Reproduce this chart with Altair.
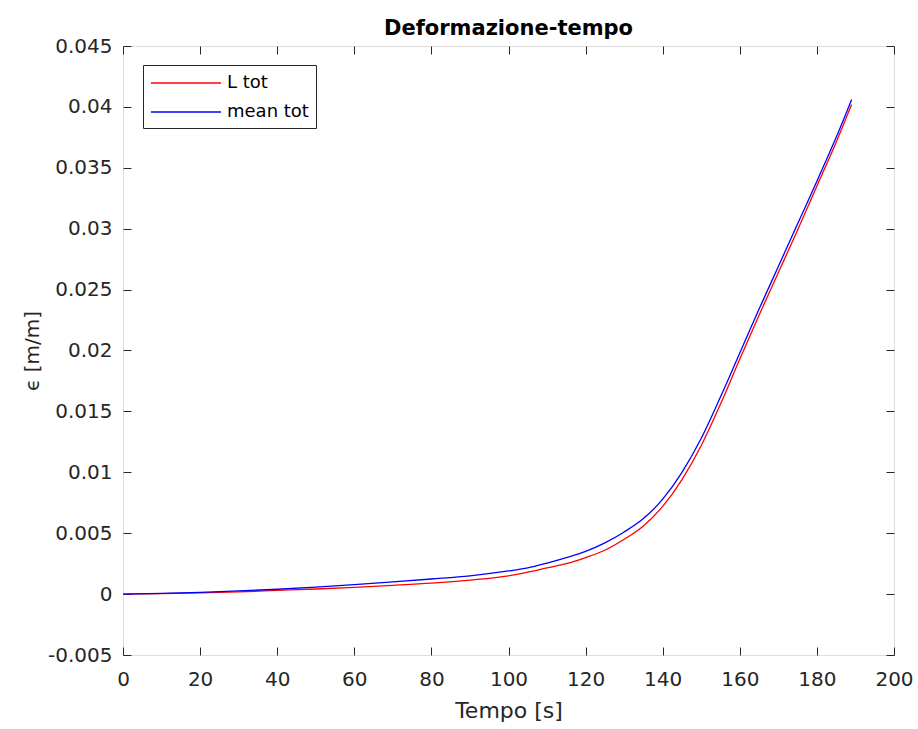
import altair as alt
import pandas as pd

# Time samples [s]
time_s = [0, 10, 20, 30, 40, 50, 60, 70, 80, 90, 100, 105, 110, 115, 120, 125,
          130, 135, 140, 145, 150, 155, 160, 165, 170, 175, 180, 185, 189]

# Strain from total length
strain_L_tot = [0, 0.00004, 0.0001, 0.00018, 0.0003, 0.00042, 0.00056, 0.00072,
                0.0009, 0.00115, 0.0015, 0.0018, 0.00215, 0.0025, 0.003, 0.0036,
                0.0045, 0.0056, 0.0072, 0.0094, 0.0122, 0.0156, 0.0193, 0.0229,
                0.0264, 0.0299, 0.0335, 0.0371, 0.0402]

# Strain from mean of the measurements
strain_mean_tot = [0, 0.00006, 0.00014, 0.00026, 0.0004, 0.00058, 0.00078, 0.001,
                   0.00124, 0.0015, 0.0019, 0.00215, 0.00255, 0.003, 0.0035, 0.0042,
                   0.0051, 0.0062, 0.0078, 0.01, 0.0128, 0.0162, 0.0198, 0.0234,
                   0.0269, 0.0304, 0.0339, 0.0375, 0.0406]

series_names = ["L tot", "mean tot"]
series_colors = ["#FF0000", "#0000FF"]

x_ticks = [0, 20, 40, 60, 80, 100, 120, 140, 160, 180, 200]
y_ticks = [-0.005, 0, 0.005, 0.01, 0.015, 0.02, 0.025, 0.03, 0.035, 0.04, 0.045]

df = pd.concat([
    pd.DataFrame({"t": time_s, "eps": strain_L_tot, "serie": series_names[0], "ord": 0}),
    pd.DataFrame({"t": time_s, "eps": strain_mean_tot, "serie": series_names[1], "ord": 1}),
])

W, H = 771, 609
FONT = "DejaVu Sans"
INK = "#262626"
INWARD = {"expr": "-8"}  # ticks drawn towards the inside of the frame

x_scale = alt.Scale(domain=[0, 200], nice=False, zero=False)
y_scale = alt.Scale(domain=[-0.005, 0.045], nice=False, zero=False)
y_label = "(datum.value < 0 ? '-' : '') + format(abs(datum.value), '.3~f')"

lines = alt.Chart(df).mark_line(strokeWidth=1.3, interpolate="monotone").encode(
    x=alt.X("t:Q", scale=x_scale,
            axis=alt.Axis(title="Tempo [s]", orient="bottom", values=x_ticks,
                          tickSize=INWARD, tickColor=INK, domain=False, grid=False,
                          labelFlush=False, labelPadding=22, labelFontSize=20,
                          labelFont=FONT, labelColor=INK, titleFontSize=22,
                          titleFont=FONT, titleFontWeight="normal", titleColor=INK,
                          titlePadding=11)),
    y=alt.Y("eps:Q", scale=y_scale,
            axis=alt.Axis(title="ϵ [m/m]", orient="left", values=y_ticks,
                          labelExpr=y_label, tickSize=INWARD, tickColor=INK,
                          domain=False, grid=False, labelFlush=False, labelPadding=19,
                          labelFontSize=20, labelFont=FONT, labelColor=INK,
                          titleFontSize=20, titleFont=FONT, titleFontWeight="normal",
                          titleColor=INK, titlePadding=5)),
    color=alt.Color("serie:N",
                    scale=alt.Scale(domain=series_names, range=series_colors),
                    legend=alt.Legend(title=None, orient="none", legendX=20, legendY=19,
                                      symbolType="M-1,0H6", symbolSize=400,
                                      symbolStrokeWidth=1.3, labelFontSize=18,
                                      labelFont=FONT, labelColor="black",
                                      strokeColor=INK, fillColor="white", padding=7,
                                      labelOffset=55, rowPadding=9)),
    order="ord:Q",
)

# Tick-only axes on the top and right edges of the frame
frame_ticks = alt.Chart(df).mark_point(opacity=0).encode(
    x=alt.X("t:Q", scale=x_scale,
            axis=alt.Axis(orient="top", values=x_ticks, labels=False, title=None,
                          domain=False, grid=False, tickSize=INWARD, tickColor=INK)),
    y=alt.Y("eps:Q", scale=y_scale,
            axis=alt.Axis(orient="right", values=y_ticks, labels=False, title=None,
                          domain=False, grid=False, tickSize=INWARD, tickColor=INK)),
)

chart = alt.layer(
    lines, frame_ticks
).resolve_axis(
    x="independent", y="independent"
).properties(
    width=W, height=H,
    title=alt.Title("Deformazione-tempo", fontSize=21, fontWeight="bold", font=FONT,
                    color="black", offset=-3),
    autosize=alt.AutoSizeParams(type="none"),
    padding={"left": 123, "top": 46, "right": 24, "bottom": 74},
).configure_view(
    stroke=INK, strokeWidth=1
).configure(
    background="white"
)

chart.save("out.html", embed_options={"renderer": "svg", "actions": False})
